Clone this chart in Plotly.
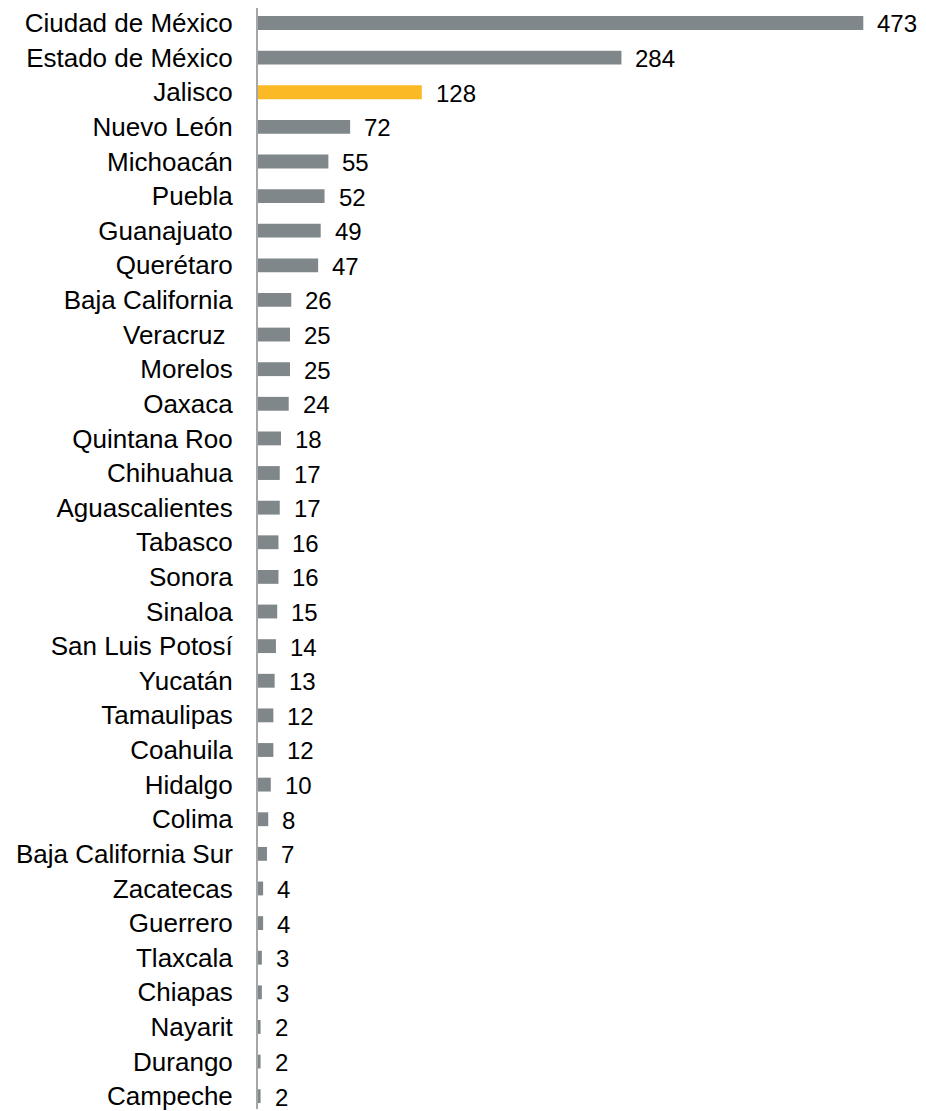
import plotly.graph_objects as go

states = ["Ciudad de México", "Estado de México", "Jalisco", "Nuevo León", "Michoacán",
          "Puebla", "Guanajuato", "Querétaro", "Baja California", "Veracruz\u00a0",
          "Morelos", "Oaxaca", "Quintana Roo", "Chihuahua", "Aguascalientes", "Tabasco",
          "Sonora", "Sinaloa", "San Luis Potosí", "Yucatán", "Tamaulipas", "Coahuila",
          "Hidalgo", "Colima", "Baja California Sur", "Zacatecas", "Guerrero", "Tlaxcala",
          "Chiapas", "Nayarit", "Durango", "Campeche"]
values = [473, 284, 128, 72, 55, 52, 49, 47, 26, 25, 25, 24, 18, 17, 17, 16, 16, 15,
          14, 13, 12, 12, 10, 8, 7, 4, 4, 3, 3, 2, 2, 2]
highlight = "Jalisco"

gray = "#7f878b"
yellow = "#fbba25"
colors = [yellow if s == highlight else gray for s in states]

font = "Liberation Sans, Arial, sans-serif"

fig = go.Figure(go.Bar(
    x=values, y=states, orientation="h",
    marker=dict(color=colors, line=dict(width=0)),
    width=0.4, hoverinfo="skip",
))

for s, v in zip(states, values):
    fig.add_annotation(x=v, y=s, text=str(v), showarrow=False, xanchor="left",
                       yanchor="middle", xshift=13, yshift=-1, borderpad=0,
                       font=dict(family=font, size=24, color="#000000"))

fig.update_layout(
    width=918, height=1103,
    margin=dict(l=250, r=0, t=0, b=0),
    plot_bgcolor="white", paper_bgcolor="white",
    showlegend=False,
    xaxis=dict(range=[0, 522], visible=False, fixedrange=True),
    yaxis=dict(type="category", range=[31.37, -0.4325], showgrid=False,
               showline=True, linecolor="#a6a6a6", linewidth=2,
               ticks="", ticklabelstandoff=18,
               tickfont=dict(family=font, size=26, color="#000000"),
               zeroline=False),
)

fig.write_html("out.html")
